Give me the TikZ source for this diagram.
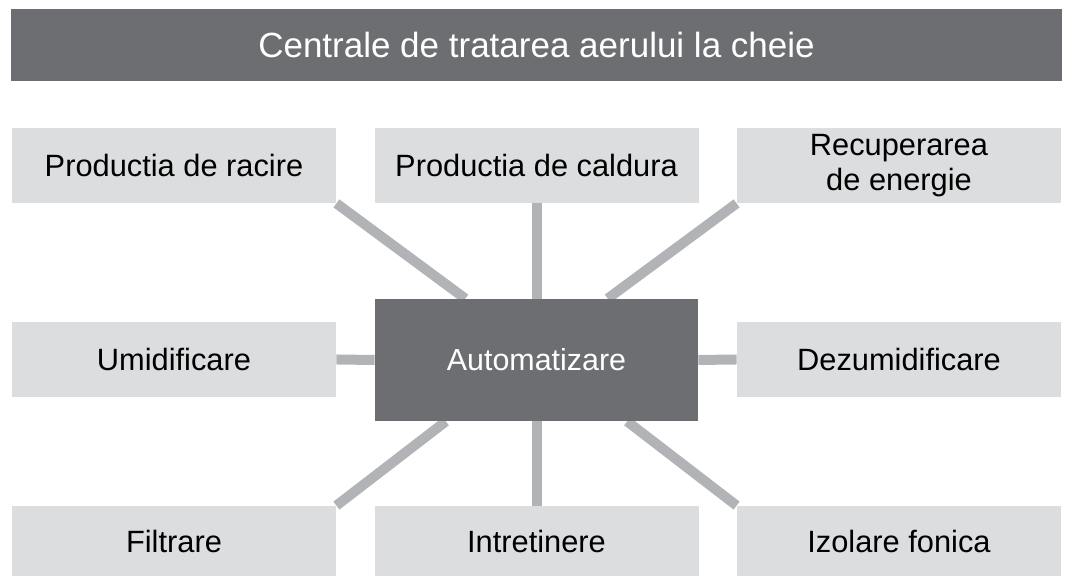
\documentclass[tikz,border=0pt]{standalone}
\usepackage{fontspec}
\setmainfont{Liberation Sans}
\usetikzlibrary{calc,backgrounds}
\definecolor{darkbar}{HTML}{6D6E71}
\definecolor{lightbox}{HTML}{DCDDDF}
\definecolor{linkgray}{HTML}{B1B3B6}
\begin{document}
\begin{tikzpicture}[x=1pt, y=1pt,
    topic/.style={fill=lightbox, text=black, minimum width=162pt, minimum height=37.5pt,
        inner sep=0pt, align=center, font=\fontsize{15.4}{17.5}\selectfont},
    hub/.style={fill=darkbar, text=white, minimum width=161.5pt, minimum height=61pt,
        inner sep=0pt, font=\fontsize{15.2}{18}\selectfont},
    link/.style={draw=linkgray, line width=5pt}]
    \useasboundingbox (0,0) rectangle (536.5,288);

    \node[fill=darkbar, text=white, minimum width=525.5pt, minimum height=36pt, inner sep=0pt,
        font=\fontsize{17.5}{20}\selectfont] (title) at (268.25,265.5) {Centrale de tratarea aerului la cheie};

    \node[hub] (auto) at (268.25,108) {Automatizare};

    \node[topic] (racire) at (87,205.25) {Productia de racire};
    \node[topic] (caldura) at (268.25,205.25) {Productia de caldura};
    \node[topic] (energie) at (449.5,205.25) {Recuperarea\\de energie};
    \node[topic] (umid) at (87,108.25) {Umidificare};
    \node[topic] (dezumid) at (449.5,108.25) {Dezumidificare};
    \node[topic, minimum height=36pt] (filtrare) at (87,17) {Filtrare};
    \node[topic, minimum height=36pt] (intret) at (268.25,17) {Intretinere};
    \node[topic, minimum height=36pt] (izolare) at (449.5,17) {Izolare fonica};

    \begin{scope}[on background layer]
        \draw[link] (racire.south east) -- ($(auto.north west)!0.28!(auto.north east)$);
        \draw[link] (caldura.south) -- (auto.north);
        \draw[link] (energie.south west) -- ($(auto.north west)!0.72!(auto.north east)$);
        \draw[link] (umid.east) -- (auto.west);
        \draw[link] (dezumid.west) -- (auto.east);
        \draw[link] (filtrare.north east) -- ($(auto.south west)!0.22!(auto.south east)$);
        \draw[link] (intret.north) -- (auto.south);
        \draw[link] (izolare.north west) -- ($(auto.south west)!0.78!(auto.south east)$);
    \end{scope}
\end{tikzpicture}
\end{document}
